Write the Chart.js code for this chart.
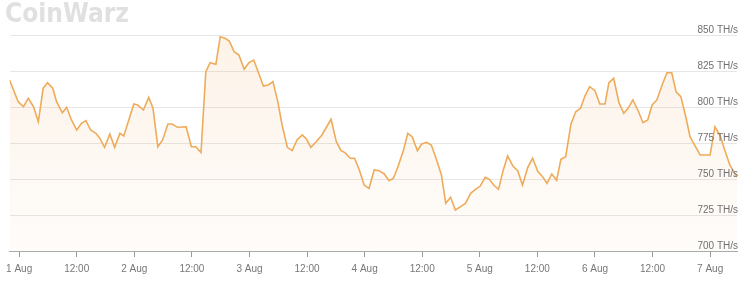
<!DOCTYPE html>
<html lang="en">
<head>
<meta charset="UTF-8">
<title>Network Hashrate - CoinWarz</title>
<script src="https://cdn.jsdelivr.net/npm/chart.js"></script>
<style>
html, body {
margin: 0;
padding: 0;
background: #ffffff;
}
.wrap {
position: relative;
width: 745px;
height: 286px;
}
.logo {
position: absolute;
left: 5px;
top: -2px;
font-family: 'DejaVu Sans', sans-serif;
font-weight: bold;
font-size: 26px;
color: #e0e0e0;
transform: scaleX(0.9);
transform-origin: left top;
}
canvas { display: block; }
</style>
</head>
<body>
<div class="wrap">
<canvas id="hashChart" width="745" height="286"></canvas>
<div class="logo">CoinWarz</div>
</div>

<script>
// hours counted from 1 Aug 00:00, hashrate in TH/s
const hours = [
-2.0, -0.2, 0.9, 1.9, 3.0, 4.0, 5.0, 5.9, 7.0, 7.8, 9.0, 9.9, 10.9, 12.0, 13.0, 13.9, 14.9, 16.0, 16.8, 17.8,
18.9, 19.9, 21.0, 21.8, 22.9, 23.9, 24.7, 25.9, 27.0, 27.9, 28.9, 29.9, 31.0, 31.9, 33.0, 34.8, 35.9, 36.8, 37.9, 38.9,
39.8, 41.0, 41.9, 42.9, 43.8, 44.8, 45.8, 46.9, 47.9, 48.9, 49.8, 50.9, 51.9, 52.9, 53.9, 54.8, 55.9, 56.9, 57.9, 59.0,
59.9, 60.8, 61.9, 63.1, 65.0, 66.1, 67.1, 67.9, 69.0, 69.9, 70.9, 71.9, 72.9, 74.0, 75.0, 76.1, 77.1, 78.0, 79.0, 80.1,
81.0, 81.9, 83.0, 83.9, 84.9, 85.9, 87.0, 88.0, 88.9, 89.9, 90.9, 92.0, 93.0, 94.1, 95.1, 96.1, 97.1, 98.0, 98.9, 99.9,
100.9, 101.8, 102.9, 103.9, 104.9, 106.0, 107.0, 108.1, 109.1, 110.0, 111.0, 112.0, 112.9, 113.9, 115.0, 116.0, 117.0, 117.9, 118.9, 120.0,
121.0, 122.1, 122.9, 123.9, 125.0, 126.0, 126.9, 127.9, 129.0, 130.0, 131.0, 131.9, 132.9, 134.0, 135.0, 136.0, 136.9, 137.9, 139.0, 139.8,
140.9, 141.9, 143.0, 144.0, 145.0, 146.1, 147.1, 148.1, 149.6
];
const hashrate = [
818.8, 803.7, 800.2, 806.0, 800.2, 789.8, 813.0, 816.9, 813.0, 803.7, 796.0, 799.8, 791.0, 784.0, 788.7, 790.5, 784.0, 781.7, 778.3, 772.0,
781.3, 772.0, 781.7, 779.9, 791.5, 802.1, 801.4, 797.9, 806.7, 799.1, 772.4, 777.1, 788.2, 788.2, 785.9, 786.3, 772.4, 772.4, 768.3, 824.5,
830.8, 829.7, 848.8, 847.7, 845.8, 838.4, 836.1, 826.2, 830.8, 832.6, 824.5, 814.6, 815.3, 817.6, 803.7, 787.5, 772.0, 769.7, 777.1, 780.6,
777.6, 772.0, 775.9, 780.6, 791.5, 775.9, 769.7, 768.3, 764.4, 764.4, 756.3, 745.8, 743.5, 756.3, 755.8, 753.5, 748.8, 750.5, 759.0, 770.1,
781.7, 779.4, 769.7, 774.3, 775.5, 773.6, 763.2, 752.8, 733.1, 737.3, 728.5, 730.8, 733.1, 740.1, 742.8, 745.1, 751.2, 749.8, 745.8, 742.8,
756.3, 766.0, 759.0, 755.8, 745.8, 758.1, 764.4, 755.1, 751.6, 747.0, 753.5, 749.1, 763.7, 765.5, 788.2, 796.7, 799.1, 807.6, 814.1, 811.3,
802.1, 802.1, 816.9, 819.9, 803.0, 795.6, 799.1, 804.9, 797.4, 789.1, 791.0, 801.4, 804.9, 815.3, 823.8, 823.8, 810.6, 807.2, 792.2, 779.4,
772.9, 766.7, 766.7, 766.7, 786.3, 779.9, 769.7, 759.7, 751.4
];

const tickHours = [0, 12, 24, 36, 48, 60, 72, 84, 96, 108, 120, 132, 144];
const tickLabels = ['1 Aug', '12:00', '2 Aug', '12:00', '3 Aug', '12:00', '4 Aug', '12:00', '5 Aug', '12:00', '6 Aug', '12:00', '7 Aug'];
const yTicks = [700, 725, 750, 775, 800, 825, 850];

const points = hours.map((h, i) => ({ x: h, y: hashrate[i] }));

// y labels sit inside the plot, right aligned, just above their grid line
const yLabelPlugin = {
id: 'yLabelPlugin',
afterDraw(chart) {
const ctx = chart.ctx;
const yScale = chart.scales.y;
ctx.save();
ctx.font = '10px "Liberation Sans", Arial, sans-serif';
ctx.fillStyle = '#707070';
ctx.textAlign = 'right';
ctx.textBaseline = 'alphabetic';
yTicks.forEach(v => {
ctx.fillText(v + ' TH/s', 738, yScale.getPixelForValue(v) - 2);
});
ctx.restore();
}
};

const ctx = document.getElementById('hashChart').getContext('2d');

new Chart(ctx, {
type: 'line',
data: {
datasets: [{
data: points,
borderColor: '#eeab5a',
borderWidth: 1.6,
pointRadius: 0,
tension: 0,
fill: 'start',
backgroundColor: function(context) {
const area = context.chart.chartArea;
if (!area) return 'rgba(240,170,100,0.1)';
const g = context.chart.ctx.createLinearGradient(0, area.top, 0, area.bottom);
g.addColorStop(0, 'rgba(238,170,100,0.15)');
g.addColorStop(1, 'rgba(238,170,100,0.03)');
return g;
}
}]
},
options: {
responsive: false,
animation: false,
layout: {
padding: { left: 6, right: 8, top: 35, bottom: 5 }
},
plugins: {
legend: { display: false },
tooltip: { enabled: false }
},
scales: {
x: {
type: 'linear',
min: hours[0],
max: hours[hours.length - 1],
afterBuildTicks: function(scale) {
scale.ticks = tickHours.map(v => ({ value: v }));
},
ticks: {
autoSkip: false,
maxRotation: 0,
padding: 6,
color: '#777777',
font: { family: '"Liberation Sans", Arial, sans-serif', size: 10 },
callback: function(value) {
const i = tickHours.indexOf(value);
return i >= 0 ? tickLabels[i] : '';
}
},
grid: {
drawOnChartArea: false,
drawTicks: true,
tickLength: 6,
color: '#999999'
},
border: { display: true, color: '#aaaaaa' }
},
y: {
min: 700,
max: 850,
afterBuildTicks: function(scale) {
scale.ticks = yTicks.map(v => ({ value: v }));
},
ticks: { display: false },
grid: {
drawTicks: false,
color: '#e6e6e6'
},
border: { display: false }
}
}
},
plugins: [yLabelPlugin]
});
</script>
</body>
</html>
